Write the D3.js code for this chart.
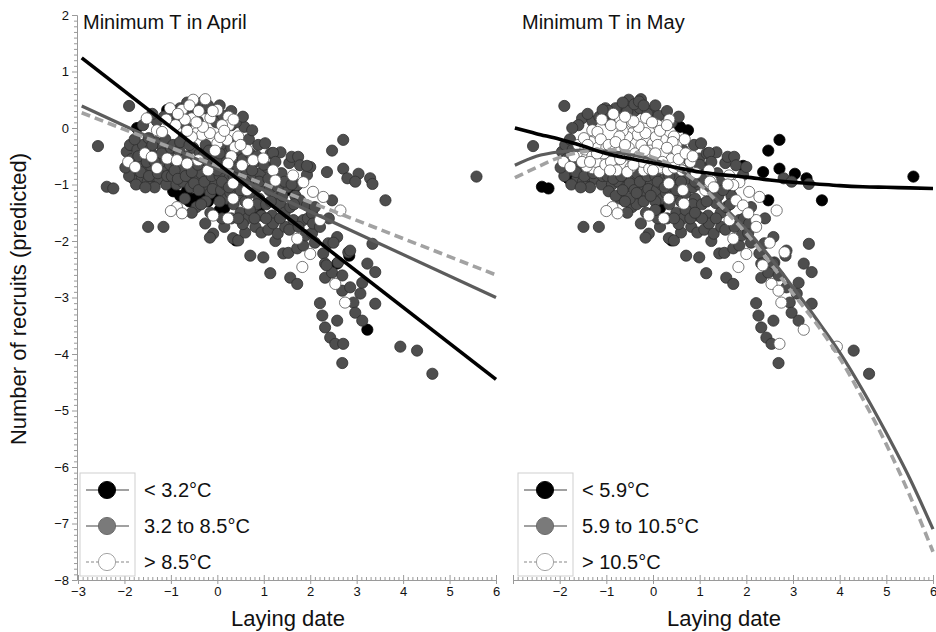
<!DOCTYPE html>
<html>
<head>
<meta charset="utf-8">
<script src="https://cdn.jsdelivr.net/npm/d3@7"></script>
<style>
  body { margin: 0; background: #fff; }
  svg { display: block; font-family: "Liberation Sans", Arial, Helvetica, sans-serif; }
</style>
</head>
<body>
<svg id="chart" width="936" height="632"></svg>
<script>
// Axis ticks
const xTicks = [-3, -2, -1, 0, 1, 2, 3, 4, 5, 6];
const yTicks = [2, 1, 0, -1, -2, -3, -4, -5, -6, -7, -8];

// Temperature classes (0 = cold, 1 = middle, 2 = warm)
const labelsApril = ["< 3.2°C", "3.2 to 8.5°C", "> 8.5°C"];
const labelsMay = ["< 5.9°C", "5.9 to 10.5°C", "> 10.5°C"];

// Fitted relationships, April (linear)
const aprilFitX = [-2.92, 6];
const aprilFitCold = [1.24, -4.45];
const aprilFitMid = [0.39, -3.0];
const aprilFitWarm = [0.27, -2.6];

// Fitted relationships, May (curved)
const mayFitX = [-2.96, -2.5, -2, -1.5, -1, -0.5, 0, 0.5, 1, 1.5, 2, 2.5, 3, 3.5, 4, 4.5, 5, 5.5, 6];
const mayFitCold = [0.0, -0.1, -0.2, -0.32, -0.45, -0.54, -0.62, -0.7, -0.78, -0.83, -0.87, -0.92, -0.96, -0.99, -1.02, -1.04, -1.05, -1.06, -1.07];
const mayFitMid = [-0.66, -0.5, -0.42, -0.39, -0.41, -0.47, -0.56, -0.72, -0.98, -1.38, -1.8, -2.28, -2.82, -3.38, -3.97, -4.65, -5.4, -6.2, -7.1];
const mayFitWarm = [-0.88, -0.7, -0.52, -0.42, -0.38, -0.42, -0.52, -0.7, -1.0, -1.42, -1.87, -2.38, -2.93, -3.46, -4.07, -4.8, -5.6, -6.5, -7.5];

// Nests: [laying date, predicted recruits, April class, May class]
const nests = [
  [-2.57,-0.32,1,1],[-2.38,-1.04,1,0],[-2.24,-1.07,1,0],[-1.9,0.39,1,1],[-1.49,-1.75,1,1],[-1.16,-1.75,1,1],
  [-1.82,-0.89,1,0],[-1.39,-0.87,1,0],
  // warm-April upper cluster
  [-1.52,0.17,2,1],[-1.3,-0.04,2,2],[-1.19,-0.07,2,2],[-1.02,0.35,2,1],[-0.76,0.32,2,1],[-0.52,0.5,2,1],
  [-0.26,0.51,2,1],[-0.55,0.17,2,2],[-0.44,-0.09,2,2],[-0.33,-0.12,2,2],[-0.16,-0.09,2,2],[0,0.32,2,1],
  [0.24,0.2,2,1],[0.25,0.05,2,2],[0,-0.27,2,2],[0.21,-0.21,2,2],[0.38,-0.34,2,2],[0.64,-0.39,2,1],
  [0.06,-0.16,2,2],[-0.55,-0.16,2,2],[-0.31,0.02,2,2],[-0.7,0.15,2,2],[-0.9,0.05,2,2],[-0.15,0.18,2,2],
  [0.1,0.05,2,2],[-0.6,0.4,2,1],[-0.4,0.3,2,1],[0.45,-0.15,2,2],[-0.05,-0.4,2,2],[0.3,-0.5,2,2],
  [-0.85,0.25,2,2],[-0.45,0.1,2,2],[-0.1,0.3,2,1],[0.15,-0.05,2,2],[-1.1,0.15,2,2],[0.5,-0.3,2,2],
  [-0.65,-0.05,2,2],[0.35,0.15,2,2],
  // warm-April band
  [-1.92,-0.6,2,2],[-1.77,-0.69,2,2],[-1.56,-0.45,2,2],[-1.41,-0.51,2,2],[-1.3,-0.71,2,2],[-1.08,-0.54,2,2],
  [-0.87,-0.57,2,2],[-0.65,-0.63,2,2],[-0.41,-0.57,2,2],[-0.2,-0.75,2,2],[0.23,-0.63,2,2],[0.53,-0.66,2,2],
  [0.77,-0.57,2,1],[0.99,-0.54,2,1],[1.2,-0.75,2,2],[1.25,-0.93,2,2],[1.63,-0.84,2,2],[1.85,-0.96,2,2],
  [2.06,-1.13,2,2],[2.28,-1.22,2,2],[2.65,-1.46,2,2],[-0.87,-1.4,2,2],[-0.76,-1.51,2,2],[-1.0,-1.47,2,2],
  [-0.09,-1.55,2,2],[0.23,-1.6,2,2],[0.34,-1.25,2,2],[0.66,-1.34,2,2],[1.72,-1.96,2,2],[2.0,-2.23,2,2],
  [1.83,-2.46,2,2],[2.54,-2.76,2,2],[2.75,-3.09,2,2],[0.34,-0.98,2,2],[0.64,-1.1,2,2],[2.21,-1.63,2,2],
  // middle-April, left part
  [-1.95,-0.42,1,1],[-1.88,-0.3,1,1],[-1.85,-0.55,1,1],[-1.8,-0.75,1,1],[-1.72,-0.38,1,1],[-1.68,-0.62,1,1],
  [-1.62,-0.88,1,1],[-1.6,-0.3,1,2],[-1.55,-0.7,1,1],[-1.5,-0.95,1,1],[-1.45,-0.38,1,2],[-1.42,-0.68,1,2],
  [-1.38,-0.85,1,1],[-1.33,-0.25,1,2],[-1.3,-0.5,1,2],[-1.25,-0.9,1,1],[-1.22,-0.6,1,2],[-1.18,-0.35,1,2],
  [-1.15,-0.78,1,2],[-1.1,-1.0,1,1],[-1.05,-0.45,1,2],[-1.02,-0.65,1,2],[-1.75,-1.0,1,1],[-1.58,-0.5,1,1],
  [-1.35,-1.05,1,1],[-1.9,-0.85,1,1],[-1.48,-0.18,1,2],[-1.12,-0.2,1,2],[-1.3,0.12,1,1],[-1.6,0.05,1,1],
  [-1.7,-0.5,1,2],[-1.65,-0.78,1,1],[-1.52,-0.6,1,2],[-1.47,-0.85,1,1],[-1.4,-0.3,1,2],[-1.28,-0.8,1,1],
  [-1.2,-0.45,1,2],[-1.08,-0.85,1,1],[-1.0,-0.35,1,2],[-1.15,0.2,1,1],[-1.4,0.25,1,1],
  [-1.98,-0.7,1,1],[-1.78,-0.2,1,1],[-1.35,-0.6,1,2],[-1.55,-1.05,1,1],
  // middle-April, centre
  [-0.98,-0.85,1,1],[-0.95,-0.3,1,2],[-0.93,0.1,1,1],[-0.9,-0.6,1,2],[-0.88,-1.0,1,1],[-0.85,0.22,1,1],
  [-0.82,-0.4,1,2],[-0.78,-0.75,1,2],[-0.75,-0.95,1,1],[-0.72,-0.15,1,2],[-0.68,0.05,1,2],[-0.65,-0.5,1,2],
  [-0.62,-0.85,1,1],[-0.58,-1.05,1,1],[-0.55,0.3,1,1],[-0.52,-0.35,1,2],[-0.48,-0.7,1,2],[-0.45,-0.92,1,1],
  [-0.42,0.12,1,2],[-0.38,-0.45,1,2],[-0.35,-0.8,1,1],[-0.32,-1.05,1,1],[-0.28,0.35,1,1],[-0.25,-0.3,1,2],
  [-0.22,-0.6,1,2],[-0.18,-0.9,1,1],[-0.15,-1.15,1,1],[-0.12,0.25,1,1],[-0.1,-0.45,1,2],[-0.08,-0.72,1,2],
  [-0.05,-1.0,1,1],[-0.02,0.1,1,2],[-0.4,0.42,1,1],[-0.3,0.47,1,1],[-0.7,-1.25,1,1],[-0.25,-1.3,1,1],
  [-0.6,0.2,1,2],[-0.8,0.35,1,1],[-0.45,-1.4,1,1],[-0.15,-1.5,1,1],[-0.26,-1.69,1,1],[-0.09,-1.87,1,1],
  [-0.16,-1.94,1,1],
  [-0.92,-0.75,1,2],[-0.85,-0.9,1,1],[-0.8,-0.25,1,2],[-0.7,-0.55,1,2],[-0.68,-0.85,1,1],[-0.6,-0.3,1,2],
  [-0.55,-0.78,1,2],[-0.5,-0.98,1,1],[-0.42,-0.65,1,2],[-0.4,-1.1,1,1],[-0.3,-0.5,1,2],[-0.28,-0.95,1,1],
  [-0.18,-0.4,1,2],[-0.12,-0.85,1,1],[-0.1,-1.08,1,1],[-0.35,-1.35,1,1],[-0.55,-1.5,1,1],
  [-0.95,0.3,1,1],[-0.65,0.45,1,1],[-0.2,0.4,1,1],
  // middle-April, 0 to 1
  [0.02,-0.6,1,2],[0.05,-0.85,1,1],[0.08,-1.1,1,1],[0.1,-0.3,1,2],[0.12,0.22,1,1],[0.15,-0.7,1,2],
  [0.18,-1.0,1,1],[0.2,-1.25,1,1],[0.22,-0.45,1,2],[0.25,-0.9,1,1],[0.28,-1.15,1,1],[0.3,0.05,1,2],
  [0.32,-0.75,1,2],[0.35,-1.35,1,1],[0.38,-1.05,1,1],[0.4,-0.55,1,2],[0.42,-0.25,1,2],[0.45,-1.2,1,1],
  [0.48,-0.9,1,1],[0.5,-1.5,1,1],[0.52,-0.4,1,2],[0.55,-1.0,1,1],[0.58,0.02,1,0],[0.6,-1.3,1,1],
  [0.62,-0.75,1,2],[0.65,-1.6,1,1],[0.68,-0.2,1,2],[0.7,-1.15,1,1],[0.72,-0.9,1,1],[0.75,-0.04,1,0],
  [0.78,-1.4,1,1],[0.8,-0.6,1,2],[0.82,-1.75,1,1],[0.85,-1.05,1,1],[0.88,-0.3,1,1],[0.9,-1.25,1,1],
  [0.92,-0.8,1,2],[0.95,-1.55,1,1],[0.98,-1.0,1,1],[0.34,-1.95,1,1],[0.45,-1.99,1,1],[0.71,-2.26,1,1],
  [0.99,-2.29,1,1],[0.6,-1.85,1,1],[0.15,-1.75,1,1],[0.4,0.1,1,1],
  [0.0,-0.75,1,2],[0.05,-0.45,1,2],[0.1,-0.95,1,1],[0.2,-0.6,1,2],[0.25,-1.05,1,1],[0.3,-0.35,1,2],
  [0.35,-0.85,1,1],[0.45,-0.7,1,2],[0.5,-1.1,1,1],[0.55,-0.55,1,2],[0.6,-0.95,1,1],[0.7,-0.45,1,2],
  [0.75,-0.75,1,1],[0.85,-0.5,1,2],[0.9,-0.95,1,1],[0.85,-1.35,1,1],[0.7,-1.45,1,1],[0.55,-1.7,1,1],
  [0.95,-1.85,1,1],[0.3,-1.6,1,1],[0.1,-1.6,1,1],[0.05,0.4,1,1],[0.3,0.3,1,1],[0.55,0.2,1,1],
  [0.05,-1.3,1,1],[0.45,-1.6,1,1],[0.8,-1.6,1,1],
  // middle-April, 1 to 2
  [1.03,-0.27,1,1],[1.05,-1.35,1,1],[1.08,-0.7,1,1],[1.1,-1.8,1,1],[1.12,-1.1,1,2],[1.14,-2.57,1,1],
  [1.15,-0.45,1,1],[1.18,-1.55,1,1],[1.2,-1.69,1,1],[1.22,-0.95,1,2],[1.25,-2.0,1,1],[1.28,-1.25,1,1],
  [1.3,-1.87,1,1],[1.36,-0.43,1,1],[1.35,-1.33,1,1],[1.38,-0.8,1,1],[1.42,-2.22,1,1],[1.45,-1.5,1,1],
  [1.46,-1.75,1,1],[1.5,-1.05,1,1],[1.53,-2.21,1,1],[1.55,-0.62,1,1],[1.57,-1.4,1,1],[1.57,-2.65,1,1],
  [1.6,-0.51,1,1],[1.64,-1.63,1,2],[1.68,-1.2,1,1],[1.72,-2.13,1,1],[1.72,-2.76,1,1],[1.72,-1.01,1,2],
  [1.74,-0.51,1,1],[1.78,-1.28,1,2],[1.78,-0.66,1,1],[1.85,-1.63,1,1],[1.85,-2.08,1,1],[1.93,-0.83,1,1],
  [1.93,-1.37,1,2],[1.2,-0.44,1,1],
  [1.0,-0.65,1,1],[1.1,-0.9,1,1],[1.15,-1.3,1,1],[1.25,-0.6,1,1],[1.3,-1.05,1,2],[1.4,-1.2,1,1],
  [1.45,-0.95,1,1],[1.6,-1.0,1,2],[1.65,-1.35,1,1],[1.05,-1.6,1,1],[1.35,-1.6,1,1],
  [1.55,-1.8,1,1],[1.75,-1.75,1,1],[1.95,-1.6,1,1],[1.9,-1.9,1,1],
  // middle-April, 2 and later
  [2.0,-0.69,1,1],[2.04,-1.51,1,2],[2.04,-1.86,1,1],[2.06,-1.69,1,1],[2.1,-2.03,1,1],[2.21,-1.75,1,2],
  [2.21,-3.1,1,1],[2.26,-3.32,1,1],[2.28,-2.22,1,1],[2.32,-2.4,1,1],[2.32,-2.65,1,1],[2.32,-3.53,1,1],
  [2.39,-2.04,1,1],[2.43,-3.71,1,1],[2.47,-2.56,1,1],[2.47,-1.28,1,0],[2.54,-3.82,1,1],[2.58,-1.93,1,1],
  [2.58,-3.41,1,1],[2.6,-2.38,1,1],[2.69,-2.61,1,1],[2.69,-2.88,1,2],[2.69,-4.16,1,1],[2.71,-3.82,1,2],
  [2.82,-2.2,1,2],[2.86,-2.17,1,1],[2.86,-2.82,1,1],[2.93,-3.09,1,1],[2.97,-3.27,1,1],[3.08,-2.93,1,1],
  [3.12,-2.74,1,1],[3.12,-3.41,1,1],[3.23,-2.4,1,1],[3.34,-2.05,1,1],[3.4,-2.55,1,1],[3.4,-3.11,1,1],
  [2.5,-2.03,1,2],[2.35,-2.43,1,2],[2.1,-1.4,1,1],[2.4,-1.6,1,1],
  [2.71,-0.21,1,0],[2.47,-0.4,1,0],[2.36,-0.78,1,0],[2.71,-0.72,1,0],[2.8,-0.89,1,1],[3.04,-0.81,1,0],
  [2.97,-0.95,1,1],[3.29,-0.89,1,0],[3.34,-0.99,1,1],[3.62,-1.28,1,0],[5.58,-0.86,1,0],[3.94,-3.87,1,2],
  [4.3,-3.94,1,1],[4.63,-4.35,1,1],[1.93,-0.67,1,0],
  // cold-April
  [-0.95,-1.12,0,1],[-0.8,-1.2,0,1],[-0.65,-1.1,0,1],[-0.5,-1.25,0,1],[-0.35,-1.15,0,1],[-0.2,-1.3,0,1],
  [-0.05,-1.2,0,1],[0.05,-1.45,0,1],[0.15,-1.42,0,0],[1.5,-1.1,0,1],[1.64,-1.1,0,0],[2.58,-2.4,0,1],
  [2.84,-2.26,0,1],[3.23,-3.57,0,2],[0.4,-1.99,0,0],[-1.08,0.32,0,1],[-1.73,0.0,0,1],[-0.09,0.17,0,0],
  [-0.6,-1.3,0,1],[0.9,-1.5,0,1]
];

const fills = ["#000000", "#4e4e4e", "#ffffff"];
const strokes = ["#000000", "#2e2e2e", "#555555"];
const legendFills = ["#000000", "#7a7a7a", "#ffffff"];
const legendStrokes = ["#000000", "#666666", "#9a9a9a"];

const svg = d3.select("#chart");
const yScale = d3.scaleLinear().domain([-8, 2]).range([580, 15]);

const panels = [
  { range: [78, 496], cls: 2, title: "Minimum T in April", titleX: 83, labels: labelsApril,
    fits: [[aprilFitX, aprilFitCold], [aprilFitX, aprilFitMid], [aprilFitX, aprilFitWarm]],
    curve: d3.curveLinear, yAxis: true, legendX: 80, hideFirst: false },
  { range: [513, 933], cls: 3, title: "Minimum T in May", titleX: 522, labels: labelsMay,
    fits: [[mayFitX, mayFitCold], [mayFitX, mayFitMid], [mayFitX, mayFitWarm]],
    curve: d3.curveMonotoneX, yAxis: false, legendX: 518, hideFirst: true }
];

const fitStyles = [
  { color: "#000000", width: 3.6, dash: null },
  { color: "#5c5c5c", width: 3.2, dash: null },
  { color: "#a2a2a2", width: 3.6, dash: "9,5" }
];

function styleAxis(sel) {
  sel.selectAll("path.domain").attr("stroke", "#9a9a9a");
  sel.selectAll(".tick line").attr("stroke", "#9a9a9a");
  sel.selectAll(".tick text").attr("fill", "#111").attr("font-size", 13)
    .attr("font-family", '"Liberation Sans", Arial, sans-serif');
}

panels.forEach(p => {
  const x = d3.scaleLinear().domain([-3, 6]).range(p.range);
  const g = svg.append("g");

  // scatter: cold, then middle, then warm on top
  [0, 1, 2].forEach(k => {
    g.append("g").selectAll("circle")
      .data(nests.filter(d => d[p.cls] === k))
      .join("circle")
      .attr("cx", d => x(d[0]))
      .attr("cy", d => yScale(d[1]))
      .attr("r", 5.6)
      .attr("fill", fills[k])
      .attr("stroke", strokes[k])
      .attr("stroke-width", 0.8);
  });

  // fitted curves
  const line = d3.line().x(d => x(d[0])).y(d => yScale(d[1])).curve(p.curve);
  [1, 2, 0].forEach(k => {
    const [xs, ys] = p.fits[k];
    g.append("path")
      .datum(xs.map((v, i) => [v, ys[i]]))
      .attr("d", line)
      .attr("fill", "none")
      .attr("stroke", fitStyles[k].color)
      .attr("stroke-width", fitStyles[k].width)
      .attr("stroke-dasharray", fitStyles[k].dash);
  });

  // x axis with minor ticks
  const minor = x.ticks(90).filter(v => !xTicks.includes(Math.round(v * 10) / 10));
  const xMinor = g.append("g").attr("transform", "translate(0,580)")
    .call(d3.axisTop(x).tickValues(minor).tickSize(3).tickSizeOuter(0).tickFormat(""));
  styleAxis(xMinor);
  const xMajor = g.append("g").attr("transform", "translate(0,580)")
    .call(d3.axisBottom(x).tickValues(xTicks).tickSizeInner(4).tickSizeOuter(0).tickPadding(3)
      .tickFormat(v => (p.hideFirst && v === -3) ? "" : d3.format("")(v)));
  styleAxis(xMajor);
  xMajor.selectAll(".tick").append("line").attr("y2", -5).attr("stroke", "#9a9a9a");

  // y axis (left panel only)
  if (p.yAxis) {
    const yMinor = g.append("g").attr("transform", "translate(77,0)")
      .call(d3.axisLeft(yScale).tickValues(yScale.ticks(100).filter(v => !yTicks.includes(Math.round(v * 10) / 10)))
        .tickSize(3).tickSizeOuter(0).tickFormat(""));
    styleAxis(yMinor);
    const yMajor = g.append("g").attr("transform", "translate(77,0)")
      .call(d3.axisLeft(yScale).tickValues(yTicks).tickSizeInner(5).tickSizeOuter(0).tickPadding(3));
    styleAxis(yMajor);
  }

  // axis title and panel title
  g.append("text")
    .attr("x", (p.range[0] + p.range[1]) / 2 + 1)
    .attr("y", 626)
    .attr("text-anchor", "middle")
    .attr("font-size", 22)
    .attr("fill", "#111")
    .text("Laying date");
  g.append("text")
    .attr("x", p.titleX)
    .attr("y", 29)
    .attr("font-size", 20)
    .attr("fill", "#111")
    .text(p.title);

  // legend
  const lg = g.append("g").attr("transform", `translate(${p.legendX},473)`);
  lg.append("rect").attr("width", 55).attr("height", 103)
    .attr("fill", "#fff").attr("stroke", "#cfcfcf").attr("stroke-width", 1);
  [0, 1, 2].forEach(k => {
    const cy = 17 + k * 36;
    lg.append("line").attr("x1", 6).attr("x2", 49).attr("y1", cy).attr("y2", cy)
      .attr("stroke", k === 2 ? "#888" : "#444").attr("stroke-width", 1.1)
      .attr("stroke-dasharray", k === 2 ? "3,2" : null);
    lg.append("circle").attr("cx", 27).attr("cy", cy).attr("r", 8.6)
      .attr("fill", legendFills[k]).attr("stroke", legendStrokes[k]).attr("stroke-width", 0.9);
    lg.append("text").attr("x", 64).attr("y", cy + 7)
      .attr("font-size", 20).attr("fill", "#111").text(p.labels[k]);
  });
});

// shared y title
svg.append("text")
  .attr("transform", "translate(26,299) rotate(-90)")
  .attr("text-anchor", "middle")
  .attr("font-size", 22)
  .attr("fill", "#111")
  .text("Number of recruits (predicted)");
</script>
</body>
</html>
